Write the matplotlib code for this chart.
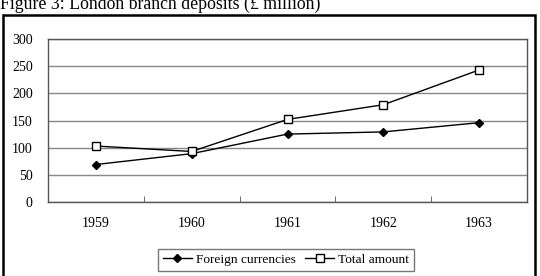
import matplotlib.pyplot as plt
from matplotlib.patches import Rectangle

years = ['1959', '1960', '1961', '1962', '1963']
foreign = [69, 89, 125, 129, 146]
total = [103, 93, 152, 179, 243]

plt.rcParams['font.family'] = ['Liberation Serif', 'DejaVu Serif']

W, H = 540, 276
fig = plt.figure(figsize=(5.4, 2.76), dpi=100)

# outer chart frame (bottom edge runs off the picture)
fig.patches.append(Rectangle((3 / W, -0.05), 532 / W, 1.05 - 15 / H,
                             transform=fig.transFigure, fill=False,
                             edgecolor='black', linewidth=1.8))

fig.text(0, 1 - 9 / H, 'Figure 3: London branch deposits (\u00a3 million)',
         fontsize=12.8, va='baseline', ha='left')

ax = fig.add_axes([48 / W, 1 - 202 / H, 479 / W, 163 / H])
x = range(len(years))
ax.plot(x, foreign, color='black', lw=1, marker='D', ms=4,
        mfc='black', label='Foreign currencies')
ax.plot(x, total, color='black', lw=1, marker='s', ms=6,
        mfc='white', mew=1, label='Total amount')

ax.set_xlim(-0.5, len(years) - 0.5)
ax.set_ylim(0, 300)
ax.set_yticks(range(0, 301, 50))
ax.set_xticks(x)
ax.set_xticklabels(years)
ax.set_xticks([i + 0.5 for i in range(len(years) - 1)], minor=True)
ax.tick_params(axis='x', which='major', length=0, pad=11, labelsize=10)
ax.tick_params(axis='x', which='minor', length=4, direction='in', color='#555555')
ax.tick_params(axis='y', length=0, pad=11, labelsize=10)
ax.yaxis.grid(True, color='#888888', lw=1)
ax.set_axisbelow(True)
for s in ax.spines.values():
    s.set_color('#555555')
    s.set_linewidth(1)

leg = fig.legend(loc='center', bbox_to_anchor=(286 / W, 1 - 260 / H), ncol=2,
                 fontsize=9.6, frameon=True, fancybox=False, handlelength=2.2,
                 columnspacing=0.7, handletextpad=0.3, borderpad=0.35,
                 borderaxespad=0)
leg.get_frame().set_edgecolor('#555555')
leg.get_frame().set_linewidth(1)

fig.savefig('out.png', dpi=100)
